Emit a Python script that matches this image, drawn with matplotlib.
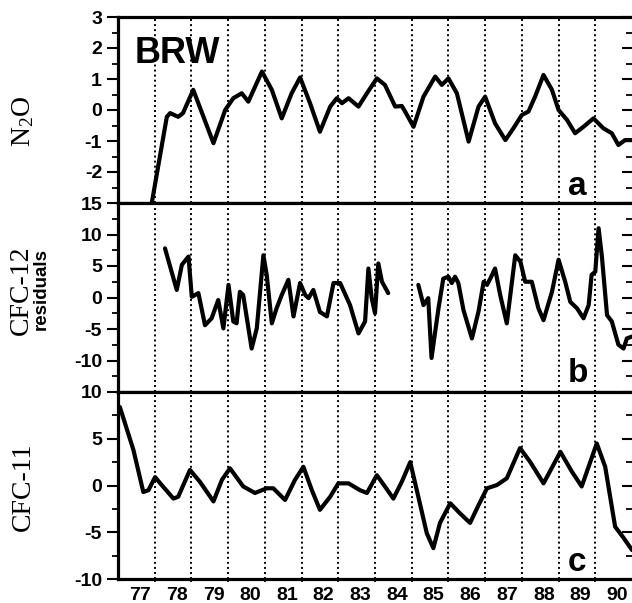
import numpy as np
import matplotlib
matplotlib.use("Agg")
import matplotlib.pyplot as plt

plt.rcParams['axes.unicode_minus'] = False
plt.rcParams['mathtext.fontset'] = 'custom'
plt.rcParams['mathtext.rm'] = 'Liberation Serif'
plt.rcParams['mathtext.it'] = 'Liberation Serif:italic'

# panel a: N2O
n2o_t = [1977.92, 1978.33, 1978.42, 1978.64, 1978.77, 1979.05, 1979.60, 1979.92, 1980.14,
         1980.37, 1980.55, 1980.92, 1981.19, 1981.46, 1981.73, 1981.96, 1982.23, 1982.50,
         1982.78, 1982.96, 1983.10, 1983.28, 1983.55, 1983.78, 1984.05, 1984.27, 1984.55,
         1984.73, 1984.82, 1985.05, 1985.32, 1985.64, 1985.82, 1986.00, 1986.23, 1986.55,
         1986.82, 1987.00, 1987.27, 1987.55, 1987.77, 1988.00, 1988.18, 1988.36, 1988.59,
         1988.82, 1989.00, 1989.23, 1989.45, 1989.68, 1989.95, 1990.22, 1990.45, 1990.63,
         1990.81, 1991.00]
n2o_v = [-3.0, -0.22, -0.10, -0.22, -0.10, 0.65, -1.07, 0.0, 0.38,
         0.54, 0.27, 1.24, 0.65, -0.27, 0.54, 1.05, 0.22, -0.70,
         0.11, 0.38, 0.22, 0.38, 0.11, 0.54, 1.02, 0.81, 0.11,
         0.13, -0.05, -0.54, 0.43, 1.08, 0.81, 1.02, 0.54, -1.02,
         0.11, 0.43, -0.43, -0.97, -0.59, -0.16, -0.05, 0.43, 1.13,
         0.65, 0.0, -0.32, -0.75, -0.54, -0.27, -0.59, -0.75, -1.13,
         -0.97, -0.97]

# panel b: CFC-12 residuals (two segments, gap in 1984-85)
cfc12_t1 = [1978.28, 1978.60, 1978.74, 1978.92, 1979.01, 1979.19, 1979.37, 1979.55, 1979.73,
            1979.87, 1980.01, 1980.14, 1980.23, 1980.32, 1980.41, 1980.64, 1980.78, 1980.96,
            1981.05, 1981.19, 1981.32, 1981.46, 1981.64, 1981.78, 1981.96, 1982.10, 1982.19,
            1982.32, 1982.50, 1982.69, 1982.87, 1983.05, 1983.32, 1983.55, 1983.73, 1983.82,
            1983.91, 1984.00, 1984.09, 1984.19, 1984.36]
cfc12_v1 = [7.8, 1.2, 5.2, 6.5, 0.1, 0.7, -4.4, -3.3, -0.4,
            -4.9, 2.0, -3.8, -4.1, 0.9, 0.4, -8.1, -4.9, 6.7,
            3.6, -4.1, -1.7, 0.4, 2.8, -3.0, 2.3, 0.4, -0.1,
            1.2, -2.3, -3.0, 2.3, 2.3, -1.2, -5.7, -3.8, 4.6,
            -0.1, -2.5, 5.4, 2.5, 0.7]
cfc12_t2 = [1985.18, 1985.32, 1985.45, 1985.54, 1985.64, 1985.73, 1985.86, 1986.00, 1986.09,
            1986.18, 1986.27, 1986.41, 1986.64, 1986.82, 1986.96, 1987.05, 1987.14, 1987.27,
            1987.41, 1987.59, 1987.82, 1987.96, 1988.09, 1988.27, 1988.45, 1988.59, 1988.82,
            1989.00, 1989.18, 1989.32, 1989.50, 1989.68, 1989.82, 1989.90, 1990.00, 1990.09,
            1990.18, 1990.32, 1990.45, 1990.63, 1990.77, 1990.86, 1991.00]
cfc12_v2 = [2.0, -1.2, -0.1, -9.6, -5.4, -1.7, 3.0, 3.3, 2.3,
            3.3, 2.3, -2.0, -6.5, -2.2, 2.5, 2.0, 3.0, 4.6,
            0.4, -4.1, 6.7, 5.7, 2.5, 2.5, -1.7, -3.6, 0.9,
            6.0, 2.5, -0.7, -1.7, -3.3, -1.2, 3.6, 4.1, 11.0,
            6.5, -2.8, -3.8, -7.5, -8.1, -6.5, -6.2]

# panel c: CFC-11
cfc11_t = [1977.05, 1977.42, 1977.69, 1977.83, 1978.01, 1978.19, 1978.51, 1978.64, 1978.96,
           1979.23, 1979.60, 1979.83, 1980.05, 1980.41, 1980.73, 1981.05, 1981.23, 1981.55,
           1981.82, 1982.05, 1982.28, 1982.50, 1982.78, 1983.00, 1983.28, 1983.59, 1983.78,
           1984.05, 1984.27, 1984.50, 1984.73, 1984.96, 1985.18, 1985.41, 1985.59, 1985.77,
           1986.05, 1986.32, 1986.59, 1986.82, 1987.05, 1987.32, 1987.59, 1987.95, 1988.23,
           1988.59, 1989.05, 1989.36, 1989.63, 1990.04, 1990.27, 1990.54, 1990.77, 1991.00]
cfc11_v = [8.4, 3.8, -0.7, -0.5, 0.9, 0.05, -1.4, -1.2, 1.66,
           0.4, -1.7, 0.6, 1.84, -0.1, -0.8, -0.3, -0.3, -1.55,
           0.6, 2.0, -0.5, -2.6, -1.2, 0.23, 0.23, -0.5, -0.8,
           1.1, -0.1, -1.4, 0.4, 2.5, -1.2, -5.1, -6.7, -4.0,
           -1.9, -3.0, -4.0, -2.1, -0.3, 0.05, 0.77, 4.0, 2.5,
           0.23, 3.6, 1.5, -0.1, 4.5, 2.0, -4.4, -5.6, -6.9]

years = np.arange(1977, 1991)
year_labels = [str(y % 100) for y in years]

W, H = 632, 603
fig = plt.figure(figsize=(W / 100, H / 100), dpi=100)

left, right = 118, 632
tops = [17, 203, 392]
bots = [203, 392, 579]
letter_base = [195, 382, 571]

ylims = [(-3, 3), (-15, 15), (-10, 10)]
majors = [[-2, -1, 0, 1, 2, 3], [-10, -5, 0, 5, 10, 15], [-10, -5, 0, 5, 10]]
minor_step = [0.5, 2.5, 2.5]
series = [[(n2o_t, n2o_v)], [(cfc12_t1, cfc12_v1), (cfc12_t2, cfc12_v2)], [(cfc11_t, cfc11_v)]]
letters = ['a', 'b', 'c']

tickfont = dict(family='Liberation Sans', weight='bold', size=14)

axes = []
for i in range(3):
    ax = fig.add_axes([left / W, 1 - bots[i] / H, (right - left) / W, (bots[i] - tops[i]) / H])
    axes.append(ax)
    ax.set_xlim(1977, 1991)
    ax.set_ylim(*ylims[i])
    for yr in years[1:]:
        ax.axvline(yr, color='black', lw=1.4, ls=(0, (1, 1.6)), zorder=1)
    for t, v in series[i]:
        ax.plot(t, v, color='black', lw=3.0, solid_joinstyle='round',
                solid_capstyle='round', zorder=3)
    ax.set_yticks(majors[i])
    lo, hi = ylims[i]
    ax.set_yticks(np.arange(lo, hi + 0.01, minor_step[i]), minor=True)
    ax.set_yticklabels([str(m) for m in majors[i]], fontdict=tickfont)
    ax.tick_params(axis='y', which='major', direction='out', length=8, width=1.5, pad=3.5,
                   right=True)
    ax.tick_params(axis='y', which='minor', direction='out', length=4, width=1.3, right=True)
    for s in ['top', 'bottom', 'left']:
        ax.spines[s].set_linewidth(2.3)
    ax.spines['right'].set_visible(False)
    ax.tick_params(axis='x', which='both', bottom=False, top=False, labelbottom=False)
    fig.text(568 / W, 1 - letter_base[i] / H, letters[i], fontsize=24, fontweight='bold',
             family='Liberation Sans', va='baseline', ha='left')

# right-side inward ticks (frame is cut at the image edge)
for ax in axes:
    ax.yaxis.set_ticks_position('both')
    for tk in ax.yaxis.get_major_ticks():
        tk.tick2line.set_marker(matplotlib.lines.TICKLEFT)
        tk.tick2line.set_markersize(7)
    for tk in ax.yaxis.get_minor_ticks():
        tk.tick2line.set_marker(matplotlib.lines.TICKLEFT)
        tk.tick2line.set_markersize(4)

# bottom year labels
axc = axes[2]
axc.set_xticks(years + 0.6, minor=True)
axc.set_xticklabels(year_labels, minor=True, fontdict=tickfont)
axc.set_xticks(years[1:])
axc.tick_params(axis='x', which='minor', bottom=True, labelbottom=True, length=0, pad=6)
axc.tick_params(axis='x', which='major', bottom=True, direction='out', length=2, width=1.2)

# panel tag
fig.text(135 / W, 1 - 63 / H, 'BRW', fontsize=26, fontweight='bold',
         family='Liberation Sans', va='baseline', ha='left')

# y-axis labels
serif = dict(family='Liberation Serif', size=20, rotation=90, ha='center', va='center')
fig.text(23 / W, 1 - 121 / H, r'N$_2$O', **serif)
fig.text(21 / W, 1 - 290 / H, 'CFC-12', **serif)
fig.text(41 / W, 1 - 289 / H, 'residuals', family='Liberation Sans', weight='bold',
         size=13.5, rotation=90, ha='center', va='center')
fig.text(23 / W, 1 - 487 / H, 'CFC-11', **serif)

fig.savefig('out.png', dpi=100)
